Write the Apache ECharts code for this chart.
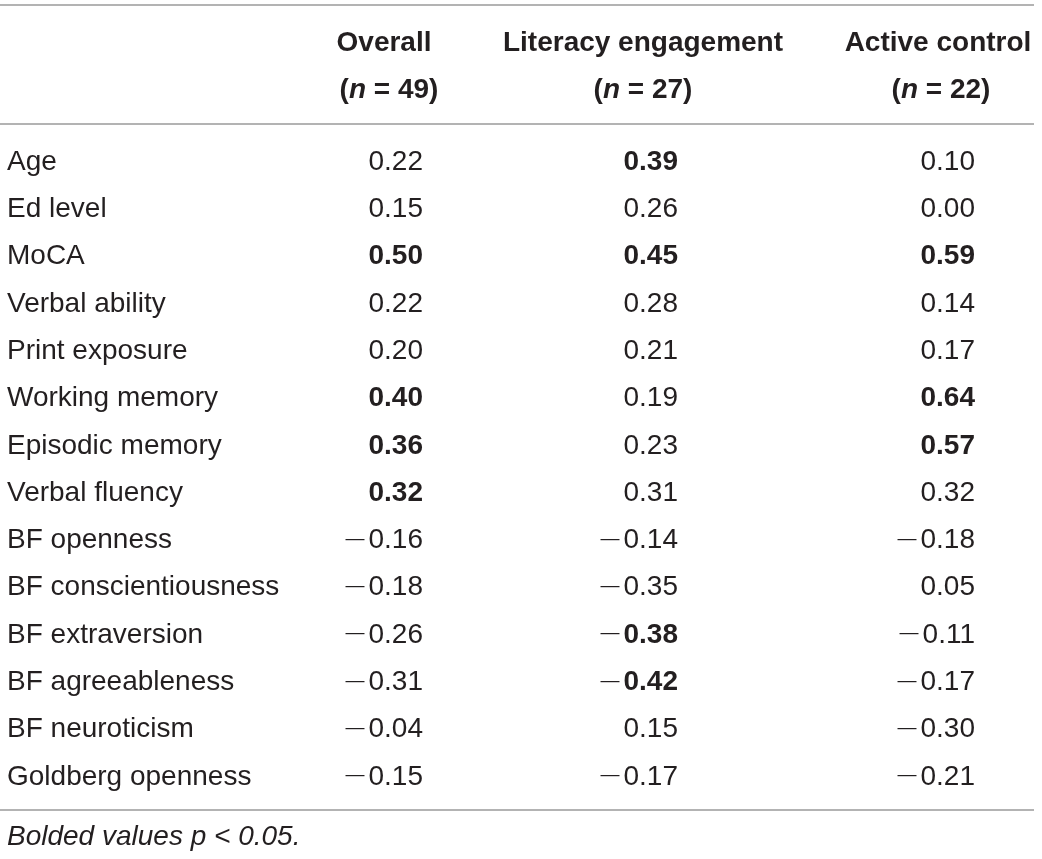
<!DOCTYPE html>
<html>
<head>
<meta charset="utf-8">
<script src="https://cdn.jsdelivr.net/npm/echarts@6/dist/echarts.min.js"></script>
<style>html,body{margin:0;padding:0;background:#fff}#c{width:1042px;height:859px}</style>
</head>
<body>
<div id="c"></div>
<script>
const rows = ['Age','Ed level','MoCA','Verbal ability','Print exposure','Working memory','Episodic memory','Verbal fluency','BF openness','BF conscientiousness','BF extraversion','BF agreeableness','BF neuroticism','Goldberg openness'];
const columns = ['Overall','Literacy engagement','Active control'];
const columnN = [49, 27, 22];
const overall = [0.22,0.15,0.50,0.22,0.20,0.40,0.36,0.32,-0.16,-0.18,-0.26,-0.31,-0.04,-0.15];
const literacy = [0.39,0.26,0.45,0.28,0.21,0.19,0.23,0.31,-0.14,-0.35,-0.38,-0.42,0.15,-0.17];
const active = [0.10,0.00,0.59,0.14,0.17,0.64,0.57,0.32,-0.18,0.05,-0.11,-0.17,-0.30,-0.21];
const sigOverall = [0,0,1,0,0,1,1,1,0,0,0,0,0,0];
const sigLiteracy = [1,0,1,0,0,0,0,0,0,0,1,1,0,0];
const sigActive = [0,0,1,0,0,1,1,0,0,0,0,0,0,0];
const footnote = 'Bolded values p < 0.05.';

const FONT = 'Liberation Sans';
const COLOR = '#231f20';
const FS = 28;
const MINUS = '\u2014';

function fmt(v, sig) {
  const s = Math.abs(v).toFixed(2);
  const neg = v < 0;
  return (neg ? '{m|' + MINUS + '}' : '') + (sig ? '{b|' : '{n|') + s + '}';
}

const valueRich = {
  n: {fontFamily: FONT, fontSize: FS, color: COLOR},
  m: {fontFamily: FONT, fontSize: 19, color: COLOR, padding: [0, 4, 4, 0]},
  b: {fontFamily: FONT, fontSize: FS, color: COLOR, fontWeight: 'bold'}
};

const colValues = [overall, literacy, active];
const colSig = [sigOverall, sigLiteracy, sigActive];
const colOffset = [45, 23, 43];
// [left pad, right pad] used to nudge centred headers; extra left pad for the "(n = ..)" line
const headerShift = [[12, 0], [0, 24], [12, 0]];
const subShift = [10, 0, 6];

const series = columns.map((c, ci) => ({
  type: 'scatter',
  symbolSize: 0,
  silent: true,
  itemStyle: {opacity: 1},
  data: rows.map((r, ri) => [c, r, colValues[ci][ri], colSig[ci][ri]]),
  label: {
    show: true,
    position: 'inside',
    align: 'right',
    verticalAlign: 'middle',
    offset: [colOffset[ci], 0],
    color: COLOR,
    opacity: 1,
    fontFamily: FONT,
    fontSize: FS,
    textBorderWidth: 0,
    formatter: p => fmt(p.value[2], p.value[3]),
    rich: valueRich
  }
}));

const headerRich = {};
columns.forEach((c, i) => {
  const base = {fontFamily: FONT, fontSize: FS, fontWeight: 'bold', color: COLOR, lineHeight: 47};
  headerRich['h' + i] = Object.assign({}, base, {padding: [0, headerShift[i][1], 0, headerShift[i][0]]});
  headerRich['a' + i] = Object.assign({}, base, {padding: [0, 0, 0, headerShift[i][0] + subShift[i]]});
  headerRich['i' + i] = Object.assign({}, base, {fontStyle: 'italic'});
  headerRich['z' + i] = Object.assign({}, base, {padding: [0, headerShift[i][1], 0, 0]});
});

const chart = echarts.init(document.getElementById('c'), null, {renderer: 'canvas'});
chart.setOption({
  backgroundColor: '#fff',
  animation: false,
  title: {
    text: footnote,
    left: 7,
    top: 823,
    padding: 0,
    textStyle: {fontFamily: FONT, fontSize: FS, fontStyle: 'italic', fontWeight: 'normal', color: COLOR}
  },
  grid: {left: 378, right: 110, top: 138.35, bottom: 58.45, containLabel: false},
  xAxis: {
    type: 'category',
    position: 'top',
    data: columns,
    boundaryGap: false,
    axisLine: {show: false},
    axisTick: {show: false},
    splitLine: {show: false},
    axisLabel: {
      interval: 0,
      margin: 25,
      formatter: (v, i) => '{h' + i + '|' + v + '}\n{a' + i + '|(}{i' + i + '|n}{z' + i + '| = ' + columnN[i] + ')}',
      rich: headerRich
    }
  },
  yAxis: {
    type: 'category',
    data: rows,
    inverse: true,
    axisLine: {show: false},
    axisTick: {show: false},
    splitLine: {show: false},
    axisLabel: {
      interval: 0,
      align: 'left',
      margin: 371,
      fontFamily: FONT,
      fontSize: FS,
      color: COLOR
    }
  },
  graphic: [
    {type: 'line', shape: {x1: 0, y1: 5, x2: 1034, y2: 5}, style: {stroke: '#9a9a9a', lineWidth: 1.5}},
    {type: 'line', shape: {x1: 0, y1: 124, x2: 1034, y2: 124}, style: {stroke: '#9a9a9a', lineWidth: 1.5}},
    {type: 'line', shape: {x1: 0, y1: 810, x2: 1034, y2: 810}, style: {stroke: '#9a9a9a', lineWidth: 1.5}}
  ],
  series: series
});
</script>
</body>
</html>
